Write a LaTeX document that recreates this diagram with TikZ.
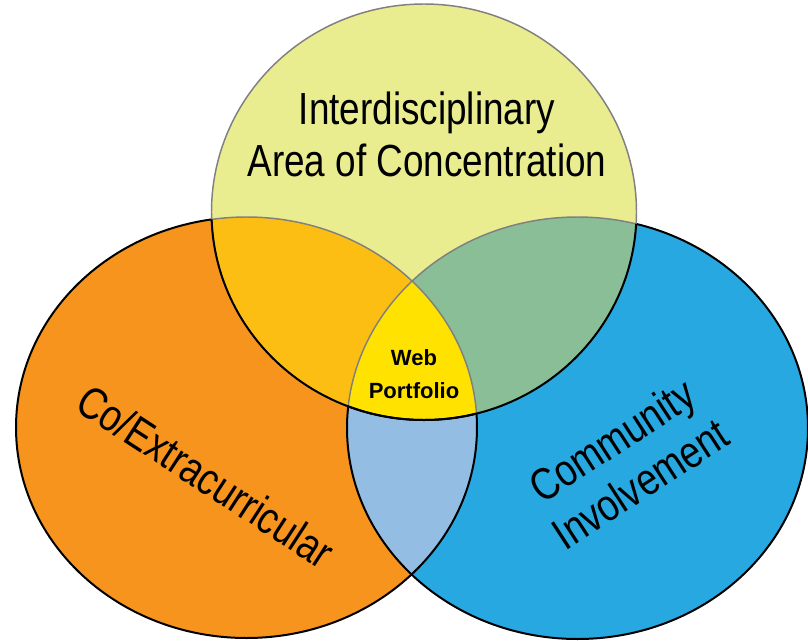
\documentclass[tikz,border=0pt]{standalone}
\usepackage{fontspec}
\setmainfont{Liberation Sans}
\newfontfamily\narrowsans{Liberation Sans}[FakeStretch=0.82]

\definecolor{areafill}{RGB}{233,237,143}
\definecolor{extrafill}{RGB}{247,148,30}
\definecolor{communityfill}{RGB}{40,168,224}
\definecolor{areaextrafill}{RGB}{253,190,20}
\definecolor{areacommunityfill}{RGB}{137,190,150}
\definecolor{extracommunityfill}{RGB}{148,189,227}
\definecolor{portfoliofill}{RGB}{255,226,0}
\definecolor{rimgray}{RGB}{128,128,128}

% the three sets
\newcommand{\areaShape}{(424,212) ellipse [x radius=212.5, y radius=208]}
\newcommand{\extraShape}{(246.5,427.5) ellipse [x radius=230.5, y radius=210.5]}
\newcommand{\communityShape}{(577.5,428) ellipse [x radius=230.5, y radius=211]}

\tikzset{every picture/.style={line width=0.75pt}}
\tikzset{
  blackrim/.style={draw=black, line width=1.5pt},
  grayrim/.style={draw=rimgray, line width=1.1pt},
  bigLabel/.style={inner sep=0pt, align=center, font=\narrowsans\fontsize{33.75}{39}\selectfont},
  coreLabel/.style={inner sep=0pt, align=center, font=\bfseries\fontsize{16.5}{24.75}\selectfont},
}

\begin{document}
\begin{tikzpicture}[x=0.75pt,y=0.75pt,yscale=-1,xscale=1]
        \useasboundingbox (0,0) rectangle (808,640);

        %Shape: Ellipse [left and right sets]
        \fill [extrafill] \extraShape;
        \fill [communityfill] \communityShape;
        \begin{scope}
          \clip \extraShape;
          \fill [extracommunityfill] \communityShape;
        \end{scope}
        \path [blackrim] \extraShape;
        \path [blackrim] \communityShape;

        %Shape: Ellipse [top set]
        \fill [areafill] \areaShape;
        \begin{scope}
          \clip \areaShape;
          \fill [areaextrafill] \extraShape;
          \fill [areacommunityfill] \communityShape;
          \clip \extraShape;
          \fill [portfoliofill] \communityShape;
        \end{scope}

        %Rims inside the top set
        \begin{scope}
          \clip \areaShape;
          \path [grayrim] \extraShape;
          \path [grayrim] \communityShape;
        \end{scope}
        \path [grayrim] \areaShape;
        \begin{scope}
          \clip \extraShape;
          \path [blackrim] \areaShape;
        \end{scope}
        \begin{scope}
          \clip \communityShape;
          \path [blackrim] \areaShape;
        \end{scope}

        % Text Node
        \node [bigLabel] (area) at (427,134) {Interdisciplinary\\Area of Concentration};
        % Text Node
        \node [bigLabel, rotate=-33] (extra) at (206,476) {Co/Extracurricular};
        % Text Node
        \node [bigLabel, rotate=33] (community) at (626,462) {Community\\Involvement};
        % Text Node
        \node [coreLabel] (portfolio) at (414,374) {Web\\Portfolio};
\end{tikzpicture}
\end{document}
